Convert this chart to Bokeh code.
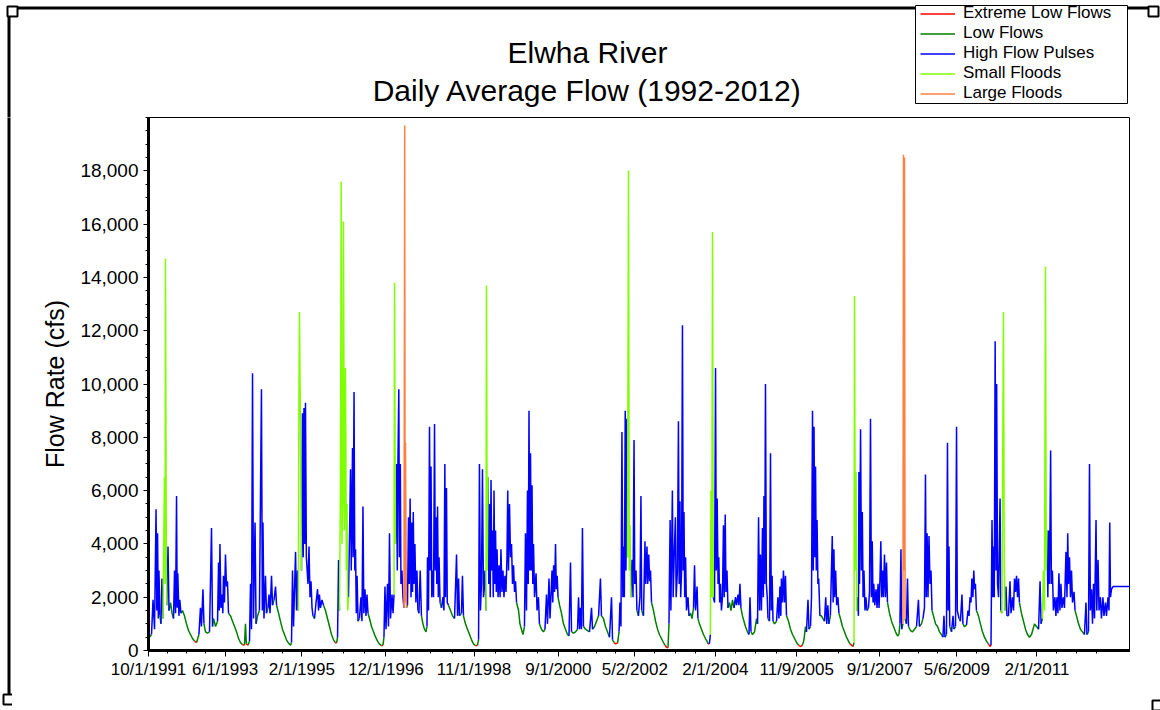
import pandas as pd
from bokeh.plotting import figure
from bokeh.layouts import column, row
from bokeh.models import (Range1d, FixedTicker, NumeralTickFormatter, CustomJSTickFormatter,
                          Legend, LegendItem, Label)
from bokeh.embed import file_html
from bokeh.resources import INLINE

RECORD_START = "1991-10-01"
AXIS_END = "2013-02-14"

# Daily average flow: (day of record after RECORD_START, flow in cfs, flow component)
# E = extreme low flow, L = low flow, H = high flow pulse, S = small flood, F = large flood
wy1992 = [(0, 450, "L"), (24, 600, "L"), (36, 1900, "H"), (48, 800, "L"), (60, 5300, "H"), (66, 1500, "H"),
          (72, 4400, "H"), (78, 1200, "H"), (83, 3000, "H"), (91, 1300, "L"), (99, 1000, "L"), (107, 2700, "H"),
          (115, 1200, "L"), (127, 6500, "S"), (132, 2500, "S"), (135, 14700, "S"), (142, 3000, "S"),
          (147, 1700, "L"), (155, 3900, "H"), (163, 1500, "L"), (175, 1800, "L"), (187, 1400, "L"),
          (199, 1200, "L"), (207, 3000, "H"), (215, 1400, "H"), (223, 5800, "H"), (228, 1600, "H"),
          (233, 2900, "H"), (242, 1300, "L"), (249, 1900, "H"), (258, 1400, "L"), (270, 1500, "L"),
          (286, 1300, "L"), (302, 1000, "L"), (318, 750, "L"), (334, 600, "L"), (350, 450, "L")]
wy1993 = [(366, 350, "E"), (382, 300, "E"), (401, 600, "L"), (413, 1600, "H"), (421, 900, "L"), (433, 2300, "H"),
          (441, 1000, "L"), (453, 700, "L"), (469, 650, "L"), (485, 700, "L"), (501, 4600, "H"), (509, 900, "L"),
          (517, 1200, "L"), (533, 900, "L"), (549, 1100, "L"), (557, 3300, "H"), (563, 1500, "H"),
          (568, 4000, "H"), (576, 1600, "H"), (584, 2100, "H"), (591, 1400, "H"), (596, 2800, "H"),
          (604, 1800, "H"), (612, 3600, "H"), (620, 2400, "H"), (628, 2600, "H"), (636, 1400, "L"),
          (652, 1300, "L"), (668, 1100, "L"), (684, 900, "L"), (700, 700, "L"), (716, 450, "L")]
wy1994 = [(731, 300, "L"), (747, 220, "E"), (763, 200, "E"), (771, 1000, "L"), (778, 250, "E"), (791, 200, "E"),
          (803, 350, "L"), (811, 2500, "H"), (819, 800, "L"), (827, 10400, "H"), (835, 1200, "H"),
          (847, 4800, "H"), (855, 1000, "L"), (867, 1300, "L"), (882, 1500, "L"), (898, 9800, "H"),
          (905, 1500, "H"), (910, 4800, "H"), (918, 1200, "L"), (930, 2800, "H"), (938, 1400, "L"),
          (950, 1600, "L"), (958, 2100, "H"), (966, 1400, "L"), (978, 2800, "H"), (986, 1700, "L"),
          (998, 1900, "L"), (1010, 2400, "H"), (1018, 1700, "L"), (1034, 1400, "L"), (1049, 1100, "L"),
          (1065, 800, "L"), (1081, 600, "L"), (1097, 400, "L"), (1113, 280, "L"), (1129, 200, "E"),
          (1137, 300, "L")]
wy1995 = [(1145, 3000, "H"), (1153, 900, "L"), (1169, 3700, "H"), (1177, 1500, "H"), (1185, 3000, "H"),
          (1191, 1500, "H"), (1195, 8500, "S"), (1200, 12700, "S"), (1208, 8500, "S"), (1216, 3000, "H"),
          (1224, 8900, "H"), (1230, 3500, "H"), (1236, 9100, "H"), (1242, 4000, "H"), (1248, 9300, "H"),
          (1255, 3500, "H"), (1268, 2500, "H"), (1276, 3900, "H"), (1284, 2000, "H"), (1292, 2600, "H"),
          (1300, 1600, "H"), (1308, 1300, "L"), (1320, 1200, "L"), (1332, 1800, "H"), (1344, 2300, "H"),
          (1352, 1500, "L"), (1359, 2100, "H"), (1367, 1600, "L"), (1379, 1900, "H"), (1391, 1700, "L"),
          (1407, 1500, "L"), (1423, 1200, "L"), (1439, 900, "L"), (1455, 600, "L"), (1471, 400, "L"),
          (1483, 300, "E"), (1495, 280, "E"), (1503, 500, "L")]
wy1996 = [(1511, 3400, "H"), (1518, 1500, "L"), (1526, 6000, "S"), (1532, 17600, "S"), (1538, 4000, "S"),
          (1545, 5800, "S"), (1550, 16100, "S"), (1557, 4500, "S"), (1562, 6000, "S"), (1566, 10600, "S"),
          (1573, 3000, "S"), (1578, 5500, "S"), (1584, 1500, "S"), (1590, 2000, "H"), (1598, 4300, "H"),
          (1606, 6800, "H"), (1612, 3000, "H"), (1622, 7600, "H"), (1627, 3500, "H"), (1634, 9700, "H"),
          (1640, 3000, "H"), (1646, 3800, "H"), (1652, 1400, "H"), (1658, 2800, "H"), (1666, 1100, "L"),
          (1677, 1200, "L"), (1689, 2000, "H"), (1697, 1100, "L"), (1705, 5400, "H"), (1712, 1400, "H"),
          (1721, 2300, "H"), (1729, 1300, "L"), (1737, 2100, "H"), (1745, 1400, "L"), (1757, 1200, "L"),
          (1773, 900, "L"), (1789, 700, "L"), (1805, 500, "L"), (1821, 350, "L")]
wy1997 = [(1836, 250, "L"), (1852, 180, "E"), (1864, 200, "E"), (1872, 500, "L"), (1880, 2400, "H"),
          (1888, 800, "L"), (1900, 2500, "H"), (1908, 900, "L"), (1916, 4400, "H"), (1924, 1200, "L"),
          (1936, 2100, "H"), (1944, 1400, "L"), (1952, 2100, "H"), (1956, 13800, "S"), (1963, 4000, "H"),
          (1971, 7000, "H"), (1978, 3000, "H"), (1983, 7000, "H"), (1990, 9800, "H"), (1995, 3500, "H"),
          (2002, 7000, "H"), (2007, 2500, "H"), (2015, 3000, "H"), (2023, 2000, "H"), (2031, 1600, "H"),
          (2037, 19700, "F"), (2040, 1800, "H"), (2043, 7800, "F"), (2050, 1600, "L"), (2059, 1700, "L"),
          (2067, 5000, "H"), (2073, 2500, "H"), (2080, 5700, "H"), (2087, 2000, "H"), (2093, 4800, "H"),
          (2099, 2200, "H"), (2105, 5200, "H"), (2111, 2500, "H"), (2118, 4000, "H"), (2126, 1800, "H"),
          (2134, 3000, "H"), (2142, 1500, "L"), (2150, 1400, "L"), (2160, 3000, "H"), (2170, 1300, "L"),
          (2182, 1000, "L")]
wy1998 = [(2194, 800, "L"), (2206, 700, "L"), (2214, 900, "L"), (2218, 3500, "H"), (2226, 1500, "H"),
          (2234, 8400, "H"), (2240, 3000, "H"), (2246, 6900, "H"), (2252, 2000, "H"), (2258, 3000, "H"),
          (2266, 2000, "H"), (2274, 8500, "H"), (2280, 3000, "H"), (2286, 5000, "H"), (2292, 2500, "H"),
          (2298, 5400, "H"), (2304, 2000, "H"), (2310, 3500, "H"), (2318, 1800, "L"), (2329, 1600, "L"),
          (2341, 2000, "H"), (2349, 1500, "L"), (2356, 7000, "H"), (2361, 2000, "H"), (2369, 6100, "H"),
          (2375, 1800, "H"), (2385, 1700, "L"), (2401, 1500, "L"), (2417, 1300, "L"), (2433, 1200, "L"),
          (2449, 3600, "H"), (2457, 1300, "L"), (2465, 2700, "H"), (2472, 1300, "L"), (2488, 1400, "L"),
          (2496, 2800, "H"), (2504, 1300, "L"), (2520, 1000, "L"), (2536, 800, "L")]
wy1999 = [(2552, 600, "L"), (2568, 400, "L"), (2584, 250, "L"), (2600, 180, "E"), (2616, 200, "E"),
          (2624, 400, "L"), (2631, 7000, "H"), (2639, 1500, "H"), (2647, 2500, "H"), (2655, 6800, "H"),
          (2663, 2000, "H"), (2675, 3000, "H"), (2683, 1500, "L"), (2687, 13700, "S"), (2693, 3000, "S"),
          (2699, 6500, "H"), (2705, 2500, "H"), (2711, 5500, "H"), (2717, 2000, "H"), (2723, 6400, "H"),
          (2729, 3000, "H"), (2735, 4500, "H"), (2741, 2000, "H"), (2747, 6000, "H"), (2753, 2500, "H"),
          (2759, 4500, "H"), (2765, 2200, "H"), (2771, 3800, "H"), (2779, 2000, "H"), (2787, 3200, "H"),
          (2795, 2000, "H"), (2802, 3800, "H"), (2810, 2200, "H"), (2818, 3000, "H"), (2826, 2000, "H"),
          (2834, 2800, "H"), (2842, 2200, "H"), (2850, 3500, "H"), (2856, 6000, "H"), (2862, 3000, "H"),
          (2870, 5500, "H"), (2878, 3500, "H"), (2886, 4000, "H"), (2894, 2500, "H"), (2902, 3200, "H"),
          (2910, 2200, "H"), (2918, 2600, "H")]
wy2000 = [(2926, 1800, "L"), (2942, 1500, "L"), (2953, 1000, "L"), (2965, 800, "L"), (2977, 600, "L"),
          (2989, 900, "L"), (2997, 4400, "H"), (3005, 1500, "H"), (3013, 6000, "H"), (3019, 2500, "H"),
          (3025, 9000, "H"), (3031, 3000, "H"), (3037, 7400, "H"), (3043, 3000, "H"), (3049, 6200, "H"),
          (3055, 2500, "H"), (3061, 4000, "H"), (3069, 2000, "H"), (3081, 2900, "H"), (3089, 1500, "L"),
          (3100, 2000, "H"), (3108, 1000, "L"), (3124, 800, "L"), (3140, 700, "L"), (3152, 800, "L"),
          (3164, 2100, "H"), (3172, 1000, "L"), (3184, 2700, "H"), (3192, 1200, "L"), (3208, 3000, "H"),
          (3214, 1800, "H"), (3221, 3200, "H"), (3228, 2200, "H"), (3236, 4000, "H"), (3242, 2300, "H"),
          (3249, 2800, "H"), (3256, 2000, "L"), (3268, 1700, "L")]
wy2001 = [(3283, 1400, "L"), (3299, 1000, "L"), (3315, 800, "L"), (3331, 600, "L"), (3343, 550, "L"),
          (3355, 3300, "H"), (3363, 700, "L"), (3379, 650, "L"), (3395, 700, "L"), (3411, 800, "L"),
          (3419, 2000, "H"), (3427, 800, "L"), (3434, 1600, "H"), (3442, 800, "L"), (3450, 4600, "H"),
          (3458, 900, "L"), (3474, 800, "L"), (3490, 750, "L"), (3506, 700, "L"), (3522, 1600, "H"),
          (3530, 800, "L"), (3546, 900, "L"), (3562, 1100, "L"), (3578, 1300, "L"), (3593, 2700, "H"),
          (3601, 1300, "L"), (3617, 1200, "L"), (3633, 900, "L")]
wy2002 = [(3649, 700, "L"), (3665, 500, "L"), (3681, 2000, "H"), (3689, 400, "L"), (3701, 300, "E"),
          (3713, 250, "E"), (3729, 280, "E"), (3741, 700, "L"), (3748, 1800, "H"), (3756, 900, "L"),
          (3764, 8200, "H"), (3771, 2000, "H"), (3776, 3900, "H"), (3783, 2000, "H"), (3790, 9000, "H"),
          (3796, 3000, "H"), (3803, 8700, "H"), (3808, 3500, "H"), (3816, 18000, "S"), (3822, 3000, "S"),
          (3828, 4700, "S"), (3834, 2000, "H"), (3844, 3400, "H"), (3852, 2000, "H"), (3860, 7900, "H"),
          (3866, 2500, "H"), (3876, 3000, "H"), (3883, 1500, "L"), (3895, 1300, "L"), (3907, 2000, "H"),
          (3915, 5800, "H"), (3921, 1500, "L"), (3935, 1300, "L"), (3947, 4100, "H"), (3953, 2500, "H"),
          (3963, 3900, "H"), (3969, 2500, "H"), (3977, 3600, "H"), (3984, 2600, "H"), (3991, 3000, "H"),
          (3999, 1800, "L")]
wy2003 = [(4015, 1500, "L"), (4031, 1100, "L"), (4047, 800, "L"), (4062, 600, "L"), (4078, 450, "L"),
          (4094, 300, "L"), (4106, 200, "E"), (4118, 120, "E"), (4130, 100, "E"), (4138, 1000, "L"),
          (4140, 2100, "H"), (4147, 4900, "H"), (4153, 1500, "H"), (4165, 6000, "H"), (4171, 2000, "H"),
          (4179, 3500, "H"), (4189, 5000, "H"), (4195, 2000, "H"), (4205, 3000, "H"), (4213, 8600, "H"),
          (4219, 2500, "H"), (4225, 5600, "H"), (4231, 2000, "H"), (4238, 3000, "H"), (4245, 12200, "H"),
          (4251, 3000, "H"), (4257, 5200, "H"), (4263, 2000, "H"), (4270, 3500, "H"), (4277, 1500, "L"),
          (4289, 2000, "H"), (4297, 1300, "L"), (4309, 1400, "L"), (4321, 1200, "L"), (4333, 1600, "L"),
          (4341, 3200, "H"), (4349, 1500, "L"), (4361, 2400, "H"), (4368, 1200, "L")]
wy2004 = [(4380, 1000, "L"), (4396, 800, "L"), (4412, 600, "L"), (4428, 450, "L"), (4440, 350, "L"),
          (4448, 250, "E"), (4459, 250, "E"), (4467, 600, "H"), (4472, 6000, "S"), (4478, 2000, "S"),
          (4484, 15700, "S"), (4490, 2000, "H"), (4500, 1800, "H"), (4508, 10600, "H"), (4514, 3000, "H"),
          (4521, 5700, "H"), (4528, 2500, "H"), (4534, 3500, "H"), (4541, 1800, "H"), (4547, 2500, "H"),
          (4555, 1500, "L"), (4563, 2000, "H"), (4571, 4700, "H"), (4577, 2000, "H"), (4585, 5100, "H"),
          (4591, 2200, "H"), (4599, 3000, "H"), (4607, 1600, "L"), (4619, 1800, "L"), (4631, 1500, "L"),
          (4643, 1900, "L"), (4655, 1600, "L"), (4667, 2000, "H"), (4675, 1700, "L"), (4687, 2100, "H"),
          (4694, 1700, "L"), (4702, 2500, "H"), (4710, 1600, "L"), (4722, 1300, "L"), (4734, 1100, "L")]
wy2005 = [(4746, 900, "L"), (4762, 700, "L"), (4774, 600, "L"), (4782, 2000, "H"), (4790, 700, "L"),
          (4802, 600, "L"), (4818, 700, "L"), (4834, 1200, "L"), (4842, 1000, "L"), (4850, 5000, "H"),
          (4858, 1500, "H"), (4865, 3600, "H"), (4873, 1500, "H"), (4881, 4600, "H"), (4888, 2000, "H"),
          (4893, 5800, "H"), (4899, 2500, "H"), (4905, 10000, "H"), (4912, 2500, "H"), (4919, 2000, "H"),
          (4925, 1200, "L"), (4937, 1100, "L"), (4945, 7400, "H"), (4951, 1500, "H"), (4958, 2800, "H"),
          (4965, 1100, "L"), (4977, 1000, "L"), (4993, 1100, "L"), (5004, 2000, "H"), (5012, 1200, "L"),
          (5020, 2400, "H"), (5027, 1300, "L"), (5032, 2700, "H"), (5040, 1800, "H"), (5048, 3000, "H"),
          (5056, 1800, "H"), (5064, 2800, "H"), (5072, 1300, "L"), (5088, 1100, "L"), (5104, 800, "L")]
wy2006 = [(5120, 600, "L"), (5136, 450, "L"), (5152, 300, "L"), (5168, 200, "E"), (5183, 150, "E"),
          (5199, 200, "E"), (5211, 400, "L"), (5223, 900, "L"), (5231, 700, "L"), (5243, 1900, "H"),
          (5251, 800, "L"), (5263, 900, "L"), (5271, 2000, "H"), (5279, 9000, "H"), (5285, 3000, "H"),
          (5291, 8400, "H"), (5297, 3500, "H"), (5303, 6900, "H"), (5309, 3000, "H"), (5315, 4900, "H"),
          (5322, 2500, "H"), (5328, 2700, "H"), (5338, 1300, "L"), (5350, 1300, "L"), (5362, 1200, "L"),
          (5374, 1100, "L"), (5384, 2000, "H"), (5392, 1000, "L"), (5401, 1700, "H"), (5409, 1000, "L"),
          (5421, 1300, "L"), (5436, 4300, "H"), (5443, 1800, "H"), (5449, 3800, "H"), (5455, 2000, "H"),
          (5463, 3000, "H"), (5471, 1700, "L")]
wy2007 = [(5481, 2000, "H"), (5489, 1400, "L"), (5501, 1200, "L"), (5517, 900, "L"), (5533, 700, "L"),
          (5549, 500, "L"), (5565, 350, "L"), (5577, 250, "E"), (5589, 200, "E"), (5601, 150, "E"),
          (5609, 300, "L"), (5613, 13300, "S"), (5619, 3000, "S"), (5625, 6700, "S"), (5631, 1500, "L"),
          (5637, 2000, "H"), (5644, 1300, "L"), (5648, 6700, "H"), (5653, 2500, "H"), (5661, 8300, "H"),
          (5668, 3000, "H"), (5675, 5200, "H"), (5681, 2000, "H"), (5688, 3000, "H"), (5696, 1500, "L"),
          (5704, 2000, "H"), (5712, 1500, "L"), (5724, 1600, "L"), (5732, 2200, "H"), (5740, 8700, "H"),
          (5747, 2000, "H"), (5754, 4100, "H"), (5760, 1800, "H"), (5766, 2500, "H"), (5774, 1700, "L"),
          (5784, 2300, "H"), (5792, 1600, "L"), (5800, 2500, "H"), (5808, 1600, "L"), (5816, 2800, "H"),
          (5822, 4100, "H"), (5829, 2000, "H"), (5835, 3000, "H")]
wy2008 = [(5843, 2000, "H"), (5851, 3600, "H"), (5859, 2000, "H"), (5867, 3300, "H"), (5875, 1800, "L"),
          (5891, 1400, "L"), (5907, 1100, "L"), (5923, 900, "L"), (5939, 700, "L"), (5955, 550, "L"),
          (5966, 600, "L"), (5974, 1000, "L"), (5982, 3800, "H"), (5988, 800, "L"), (5998, 1000, "L"),
          (6002, 18600, "F"), (6006, 3000, "F"), (6010, 18500, "F"), (6015, 1200, "L"), (6026, 1000, "L"),
          (6034, 2700, "H"), (6042, 900, "L"), (6058, 750, "L"), (6074, 700, "L"), (6090, 800, "L"),
          (6106, 900, "L"), (6121, 1900, "H"), (6129, 900, "L"), (6145, 1000, "L"), (6157, 1200, "L"),
          (6169, 1600, "H"), (6177, 6600, "H"), (6183, 2000, "H"), (6190, 4400, "H"), (6197, 2000, "H"),
          (6205, 4300, "H")]
wy2009 = [(6213, 2500, "H"), (6221, 3000, "H"), (6229, 1500, "L"), (6241, 1300, "L"), (6257, 1000, "L"),
          (6273, 900, "L"), (6288, 700, "L"), (6304, 600, "L"), (6316, 500, "L"), (6324, 1300, "H"),
          (6332, 500, "L"), (6344, 600, "L"), (6352, 7800, "H"), (6358, 1500, "H"), (6364, 3900, "H"),
          (6370, 900, "L"), (6384, 700, "L"), (6396, 1300, "H"), (6404, 800, "L"), (6416, 900, "L"),
          (6424, 8400, "H"), (6430, 1500, "H"), (6444, 1200, "L"), (6455, 1100, "L"), (6467, 2100, "H"),
          (6475, 1000, "L"), (6487, 900, "L"), (6503, 950, "L"), (6515, 1500, "H"), (6523, 1300, "L"),
          (6531, 2000, "H"), (6539, 1800, "H"), (6546, 2700, "H"), (6554, 2000, "H"), (6561, 3000, "H"),
          (6568, 2300, "H")]
wy2010 = [(6574, 2500, "H"), (6582, 1500, "L"), (6598, 1300, "L"), (6614, 1000, "L"), (6630, 700, "L"),
          (6646, 500, "L"), (6662, 350, "L"), (6678, 250, "E"), (6690, 150, "E"), (6698, 200, "E"),
          (6706, 4900, "H"), (6712, 2000, "H"), (6718, 3900, "H"), (6724, 2000, "H"), (6731, 11600, "H"),
          (6738, 3000, "H"), (6743, 10000, "H"), (6750, 2500, "H"), (6758, 2000, "H"), (6770, 5700, "H"),
          (6776, 1500, "L"), (6785, 1400, "L"), (6797, 12700, "S"), (6803, 3500, "S"), (6809, 1500, "L"),
          (6817, 2400, "H"), (6825, 1300, "L"), (6837, 1300, "L"), (6849, 2600, "H"), (6857, 1400, "L"),
          (6869, 2000, "H"), (6877, 1500, "L"), (6885, 2700, "H"), (6893, 2200, "H"), (6901, 2800, "H"),
          (6909, 2000, "H"), (6917, 2700, "H"), (6924, 1800, "L")]
wy2011 = [(6940, 1400, "L"), (6956, 1100, "L"), (6972, 800, "L"), (6988, 600, "L"), (7004, 500, "L"),
          (7020, 600, "L"), (7032, 800, "L"), (7044, 1000, "L"), (7060, 900, "L"), (7076, 800, "L"),
          (7088, 2600, "H"), (7096, 1000, "L"), (7107, 1200, "L"), (7115, 3000, "S"), (7123, 1500, "S"),
          (7131, 14400, "S"), (7137, 3000, "S"), (7143, 4500, "H"), (7150, 2000, "H"), (7156, 4500, "H"),
          (7163, 2500, "H"), (7172, 7500, "H"), (7178, 2500, "H"), (7186, 3000, "H"), (7194, 1500, "L"),
          (7206, 2000, "H"), (7214, 1300, "L"), (7222, 2000, "H"), (7230, 1400, "L"), (7238, 2900, "H"),
          (7246, 1500, "L"), (7254, 2500, "H"), (7262, 1600, "L"), (7274, 2000, "H"), (7282, 1600, "L"),
          (7294, 3700, "H"), (7302, 2000, "H")]
wy2012 = [(7308, 4400, "H"), (7314, 2500, "H"), (7322, 3500, "H"), (7330, 2000, "H"), (7338, 3000, "H"),
          (7346, 1800, "L"), (7358, 2200, "H"), (7366, 1500, "L"), (7378, 1300, "L"), (7394, 1000, "L"),
          (7409, 800, "L"), (7425, 700, "L"), (7441, 600, "L"), (7453, 1800, "H"), (7461, 600, "L"),
          (7473, 700, "L"), (7481, 7000, "H"), (7488, 1500, "H"), (7497, 2300, "H"), (7505, 1000, "L"),
          (7513, 2500, "H"), (7521, 1200, "L"), (7533, 4900, "H"), (7539, 1500, "H"), (7549, 3400, "H"),
          (7557, 1500, "H"), (7568, 2000, "H"), (7576, 1200, "L"), (7588, 2000, "H"), (7596, 1300, "L"),
          (7608, 1800, "H"), (7616, 1300, "L"), (7628, 2000, "H"), (7636, 1500, "H"), (7642, 4800, "H"),
          (7648, 2000, "H"), (7656, 2300, "H"), (7668, 2400, "H"), (7807, 2400, "H")]

components = ["E", "L", "H", "S", "F"]
component_names = ["Extreme Low Flows", "Low Flows", "High Flow Pulses", "Small Floods", "Large Floods"]
component_colors = ["#FF0000", "#008000", "#0000FF", "#80FF00", "#FF8040"]

x_tick_labels = ["10/1/1991", "6/1/1993", "2/1/1995", "12/1/1996", "11/1/1998", "9/1/2000",
                 "5/2/2002", "2/1/2004", "11/9/2005", "9/1/2007", "5/6/2009", "2/1/2011"]
y_ticks = [0, 2000, 4000, 6000, 8000, 10000, 12000, 14000, 16000, 18000]

TITLE = ["Elwha River", "Daily Average Flow (1992-2012)"]
FONT = "Liberation Sans"
W, H = 1160, 710
HEAD_H = 117          # header strip (title + legend) above the plot frame
FOOT_H = 60           # x axis band below the plot frame
LEFT_W, RIGHT_W = 12, 30


def to_ms(ts):
    return (pd.Timestamp(ts) - pd.Timestamp("1970-01-01")) / pd.Timedelta(milliseconds=1)


record = (wy1992 + wy1993 + wy1994 + wy1995 + wy1996 + wy1997 + wy1998 + wy1999 + wy2000 + wy2001 +
          wy2002 + wy2003 + wy2004 + wy2005 + wy2006 + wy2007 + wy2008 + wy2009 + wy2010 + wy2011 + wy2012)
start = pd.Timestamp(RECORD_START)
t_ms = [to_ms(start + pd.Timedelta(days=d)) for d, _, _ in record]
rank = {c: i for i, c in enumerate(components)}

# Each step of the hydrograph takes the colour of the higher flow component of its two ends;
# consecutive steps of the same component are joined into one polyline.
runs = {c: ([], []) for c in components}
prev = None
for i in range(len(record) - 1):
    a, b = record[i], record[i + 1]
    comp = a[2] if rank[a[2]] >= rank[b[2]] else b[2]
    xs, ys = runs[comp]
    if comp == prev:
        xs[-1].append(t_ms[i + 1])
        ys[-1].append(b[1])
    else:
        xs.append([t_ms[i], t_ms[i + 1]])
        ys.append([a[1], b[1]])
    prev = comp

# ---- main hydrograph ----
p = figure(width=W - LEFT_W - RIGHT_W, height=H - HEAD_H, x_axis_type="datetime",
           output_backend="svg", toolbar_location=None,
           x_range=Range1d(to_ms(RECORD_START), to_ms(AXIS_END)), y_range=Range1d(0, 20000),
           min_border_left=148 - LEFT_W, min_border_right=0, min_border_top=0, min_border_bottom=FOOT_H,
           background_fill_color="white", border_fill_color="white",
           outline_line_color="black", outline_line_width=1)
p.grid.visible = False

for comp in ["L", "E", "H", "S", "F"]:
    xs, ys = runs[comp]
    p.multi_line(xs=xs, ys=ys, line_color=component_colors[rank[comp]], line_width=1.5)

major = [to_ms(pd.to_datetime(s, format="%m/%d/%Y")) for s in x_tick_labels]
step = major[-1] - major[-2]
bounds = major + [major[-1] + step]
minor = []
for lo, hi in zip(bounds[:-1], bounds[1:]):
    minor += [lo + (hi - lo) * k / 4 for k in (1, 2, 3)]
xa = p.xaxis[0]
xa.ticker = FixedTicker(ticks=major, minor_ticks=minor)
xa.formatter = CustomJSTickFormatter(code="""
const d = new Date(tick);
return (d.getUTCMonth() + 1) + '/' + d.getUTCDate() + '/' + d.getUTCFullYear();
""")
xa.axis_line_width = 3
xa.major_tick_in = 0
xa.major_tick_out = 6
xa.minor_tick_in = 0
xa.minor_tick_out = 3
xa.major_label_text_font = FONT
xa.major_label_text_font_size = "17px"
xa.major_label_text_color = "black"
xa.major_label_standoff = 3

ya = p.yaxis[0]
ya.ticker = FixedTicker(ticks=y_ticks, minor_ticks=list(range(0, 20001, 500)))
ya.formatter = NumeralTickFormatter(format="0,0")
ya.axis_line_width = 3
ya.major_tick_in = 0
ya.major_tick_out = 5
ya.minor_tick_in = 0
ya.minor_tick_out = 3
ya.major_label_text_font = FONT
ya.major_label_text_font_size = "19px"
ya.major_label_text_color = "black"
ya.major_label_standoff = 5
ya.axis_label = "Flow Rate (cfs)"
ya.axis_label_text_font = FONT
ya.axis_label_text_font_size = "25px"
ya.axis_label_text_font_style = "normal"
ya.axis_label_text_color = "black"
ya.axis_label_standoff = 8


def strip(width, height, x0, y0):
    """A bare figure whose data units are page pixels (y grows downwards)."""
    f = figure(width=width, height=height, output_backend="svg", toolbar_location=None,
               x_range=Range1d(x0, x0 + width), y_range=Range1d(y0 + height, y0),
               x_axis_location=None, y_axis_location=None,
               min_border=0, outline_line_color=None,
               background_fill_color="white", border_fill_color="white")
    f.grid.visible = False
    return f


def handle(f, x, y):
    f.quad(left=x, right=x + 10, top=y, bottom=y + 10, fill_color="white", line_color="black", line_width=2)


def edge(f, top, bottom):
    f.quad(left=7, right=10, top=top, bottom=bottom, fill_color="black", line_color=None)


# ---- header: page frame, title, legend ----
head = strip(W, HEAD_H, 0, 0)
head.quad(left=7, right=1153, top=6, bottom=9, fill_color="black", line_color=None)
edge(head, 6, HEAD_H + 5)
handle(head, 7, 6)
handle(head, 1148, 6)
for text, y in zip(TITLE, [52, 90]):
    head.add_layout(Label(x=587, y=y, text=text, text_align="center", text_baseline="middle",
                          text_font=FONT, text_font_size="30px", text_color="black"))
head.quad(left=915, right=1127, top=5, bottom=103, fill_color="white", line_color="black", line_width=1)
# legend keys: short line samples kept outside the visible header range
keys = [head.line(x=[-30, -20], y=[-30, -30], line_color=c, line_width=1.5) for c in component_colors]
legend = Legend(items=[LegendItem(label=n, renderers=[r]) for n, r in zip(component_names, keys)],
                location=(918, 12), padding=2, spacing=-1, margin=0,
                glyph_width=35, glyph_height=19, label_height=19, label_standoff=8,
                label_text_font=FONT, label_text_font_size="17px", label_text_color="black",
                background_fill_alpha=0, border_line_alpha=0)
head.add_layout(legend)

# ---- side strips: left page edge and lower corner handles ----
body_h = H - HEAD_H
left = strip(LEFT_W, body_h, 0, HEAD_H)
edge(left, HEAD_H - 5, 697)
handle(left, 3, 694)
right = strip(RIGHT_W, body_h, W - RIGHT_W, HEAD_H)
handle(right, 1152, 700)

page = column(head, row(column(left), p, column(right), spacing=0), spacing=0)
open("out.html", "w").write(file_html(page, INLINE))
